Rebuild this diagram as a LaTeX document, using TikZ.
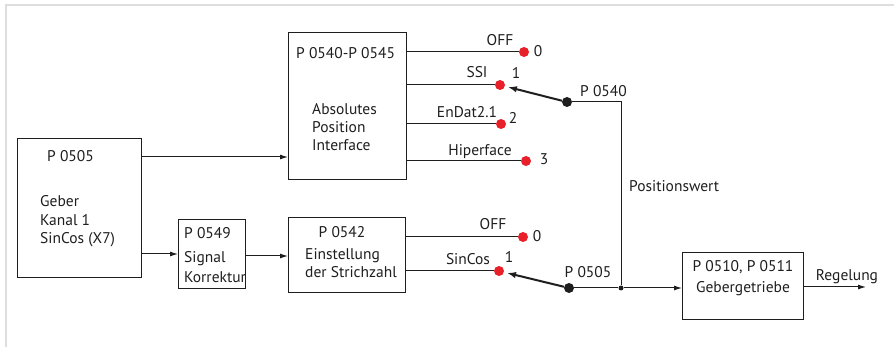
\documentclass[tikz,border=0pt]{standalone}
\usepackage{fontspec}
\setmainfont{PT Sans}
\usetikzlibrary{arrows.meta}
\definecolor{ink}{HTML}{1E1E1E}
\definecolor{dotred}{HTML}{E8202A}
\definecolor{frame}{HTML}{DEDEDE}
\begin{document}
\begin{tikzpicture}[x=1pt,y=-1pt,
  font=\fontsize{15.5}{19}\selectfont,
  blk/.style={draw=ink,line width=1.2pt,inner sep=0pt},
  wire/.style={draw=ink,line width=1pt},
  flow/.style={wire,-{Latex[length=8pt,width=5pt]}},
  lever/.style={draw=ink,line width=2pt,-{Latex[length=9pt,width=6.5pt]},shorten >=3pt},
  contact/.style={circle,fill=dotred,inner sep=0pt,minimum size=10pt},
  pivot/.style={circle,fill=ink,inner sep=0pt,minimum size=10pt},
  joint/.style={circle,fill=ink,inner sep=0pt,minimum size=5pt},
  txt/.style={inner sep=0pt,text=ink},
]
\useasboundingbox (0,0) rectangle (894,347);
% light frame along the top and left edge
\draw[frame,line width=1.5pt] (6,347) -- (6,5) -- (894,5);

% blocks
\node[blk,minimum width=124pt,minimum height=139pt,anchor=north west] (geber) at (17,138) {};
\node[blk,minimum width=67pt,minimum height=69pt,anchor=north west] (korr) at (178,219) {};
\node[blk,minimum width=118pt,minimum height=147pt,anchor=north west] (abs) at (288,32) {};
\node[blk,minimum width=117pt,minimum height=75pt,anchor=north west] (strich) at (288,217) {};
\node[blk,minimum width=121pt,minimum height=67pt,anchor=north west] (getr) at (682,252) {};

% block texts
\node[txt,anchor=base west] (tgeber) at (47,162) {P 0505};
\node[txt,anchor=base west] (tgeber1) at (40,207) {Geber};
\node[txt,anchor=base west] (tgeber2) at (40,226) {Kanal 1};
\node[txt,anchor=base west] (tgeber3) at (40,244) {SinCos (X7)};

\node[txt,anchor=base west] (tkorr) at (184,239) {P 0549};
\node[txt,anchor=base west] (tkorr1) at (184,263) {Signal};
\node[txt,anchor=base west] (tkorr2) at (184,283) {Korrektur};

\node[txt,anchor=base west] (tabs) at (296,59) {P 0540-P 0545};
\node[txt,anchor=base west] (tabs1) at (312,115) {Absolutes};
\node[txt,anchor=base west] (tabs2) at (312,133) {Position};
\node[txt,anchor=base west] (tabs3) at (312,151) {Interface};

\node[txt,anchor=base] (tstrich) at (342,238) {P 0542};
\node[txt,anchor=base west] (tstrich1) at (305,260) {Einstellung};
\node[txt,anchor=base west] (tstrich2) at (305,278) {der Strichzahl};

\node[txt,anchor=base] (tgetr) at (743,272) {P 0510, P 0511};
\node[txt,anchor=base] (tgetr1) at (743,293) {Gebergetriebe};

% contacts of the upper selector
\node[contact] (a0) at (524,52) {};
\node[contact] (a1) at (500,85) {};
\node[contact] (a2) at (501,124) {};
\node[contact] (a3) at (526,161) {};
% contacts of the lower selector
\node[contact] (b0) at (523,237) {};
\node[contact] (b1) at (499,271) {};

% contact lines
\draw[wire] (abs.east |- a0) -- (a0);
\draw[wire] (abs.east |- a1) -- (a1);
\draw[wire] (abs.east |- a2) -- (a2);
\draw[wire] (abs.east |- a3) -- (a3);
\draw[wire] (strich.east |- b0) -- (b0);
\draw[wire] (strich.east |- b1) -- (b1);

% contact labels
\node[txt,anchor=base] (la0) at (500,46) {OFF};
\node[txt,anchor=base] (la1) at (477,78) {SSI};
\node[txt,anchor=base] (la2) at (467,118) {EnDat2.1};
\node[txt,anchor=base] (la3) at (480,156) {Hiperface};
\node[txt,anchor=base] (na0) at (538,57) {0};
\node[txt,anchor=base] (na1) at (516,79) {1};
\node[txt,anchor=base] (na2) at (513,124) {2};
\node[txt,anchor=base] (na3) at (544,165) {3};

\node[txt,anchor=base] (lb0) at (493,230) {OFF};
\node[txt,anchor=base] (lb1) at (468,265) {SinCos};
\node[txt,anchor=base] (nb0) at (537,242) {0};
\node[txt,anchor=base] (nb1) at (509,263) {1};

% selector levers
\node[pivot] (sa) at (567,102) {};
\node[pivot] (sb) at (569,288) {};
\draw[lever] (sa) -- (a1);
\draw[lever] (sb) -- (b1);
\node[txt,anchor=base west] (lsa) at (580,97) {P 0540};
\node[txt,anchor=base] (lsb) at (588,278) {P 0505};

% position value path
\coordinate (ca) at (621,102);
\node[joint] (j) at (621,288) {};
\draw[wire] (sa) -- (ca) -- (j);
\draw[wire] (sb) -- (j);
\node[txt,anchor=base west] (lpos) at (629,192) {Positionswert};

% signal flow
\draw[flow] (geber.east |- 0,157) -- (abs.west |- 0,157);
\draw[flow] (geber.east |- 0,254) -- (korr.west |- 0,254);
\draw[flow] (korr.east |- 0,256) -- (strich.west |- 0,256);
\draw[flow] (j) -- (getr.west |- j);
\coordinate (out) at (866,287);
\draw[flow] (getr.east |- out) -- (out);
\node[txt,anchor=base] (lout) at (847,281) {Regelung};
\end{tikzpicture}
\end{document}
